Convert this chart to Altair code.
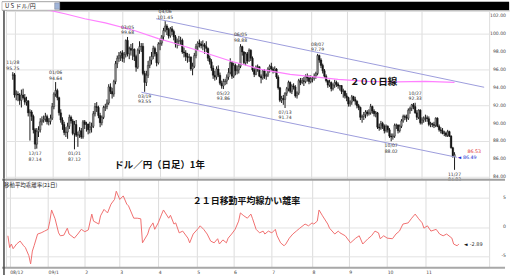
import altair as alt
import pandas as pd

# ---- trading days: FX weekdays (Christmas / New Year closed) ----
dates = [d for d in pd.bdate_range("2008-11-28", "2009-11-27")
         if d.strftime("%m-%d") not in ("12-25", "01-01")]

# ---- daily candles ----
closes = [
    95.45, 93.20, 93.30, 93.20, 92.60, 93.20, 92.90, 92.40, 92.55, 91.20,
    91.30, 90.80, 89.30, 87.70, 89.10, 89.30, 90.20, 90.40, 90.50, 90.80,
    90.20, 90.25, 90.60, 91.90, 93.30, 93.70, 92.90, 91.20, 90.40, 89.90,
    89.00, 89.05, 89.70, 90.70, 90.30, 88.90, 89.90, 88.70, 88.75, 89.20,
    88.50, 90.20, 89.90, 89.95, 89.30, 89.60, 89.70, 91.10, 91.90, 91.80,
    90.90, 90.10, 90.70, 91.80, 91.90, 92.30, 94.10, 93.60, 93.30, 94.70,
    96.70, 97.30, 97.60, 97.90, 97.30, 97.70, 99.30, 97.80, 98.40, 98.20,
    98.30, 97.50, 96.30, 98.20, 98.60, 98.65, 95.60, 94.60, 95.40, 96.50,
    97.10, 97.50, 98.40, 97.80, 96.80, 98.90, 99.00, 99.70, 100.40, 100.90,
    100.50, 99.80, 100.60, 100.30, 99.70, 98.90, 99.20, 99.25, 99.30, 98.00,
    97.90, 97.50, 97.40, 97.45, 96.10, 96.40, 97.60, 98.60, 99.00, 98.90,
    98.70, 98.80, 98.60, 98.40, 97.30, 96.90, 96.20, 95.40, 95.20, 96.10,
    95.40, 94.50, 94.20, 94.70, 94.75, 95.20, 95.70, 96.80, 95.30, 96.50,
    95.90, 96.00, 96.40, 98.60, 98.00, 96.80, 97.80, 97.00, 98.20, 97.30,
    96.00, 95.50, 96.30, 96.35, 95.30, 95.10, 95.90, 95.30, 95.40, 96.10,
    96.40, 96.10, 95.90, 96.10, 95.20, 94.00, 92.60, 92.80, 92.70, 93.40,
    93.90, 94.60, 93.60, 94.20, 94.10, 93.10, 93.40, 94.80, 94.60, 94.80,
    94.70, 95.30, 95.10, 94.70, 95.00, 95.10, 95.30, 95.60, 97.60, 97.10,
    96.50, 95.90, 95.30, 94.80, 94.30, 94.60, 93.90, 94.30, 94.60, 94.40,
    94.20, 94.25, 93.60, 93.65, 93.10, 92.90, 92.20, 92.40, 93.00, 92.70,
    92.50, 92.00, 91.80, 90.70, 90.80, 91.00, 91.30, 91.10, 91.20, 91.90,
    91.40, 91.10, 91.20, 89.60, 89.50, 90.00, 89.70, 89.20, 89.70, 89.30,
    88.60, 88.50, 88.60, 89.80, 89.85, 89.20, 89.70, 90.30, 90.80, 90.70,
    90.60, 91.50, 91.70, 92.10, 91.90, 91.20, 90.70, 91.50, 90.10, 90.40,
    90.60, 90.65, 90.55, 89.90, 90.00, 89.90, 89.80, 90.60, 89.70, 89.30,
    89.20, 88.90, 88.95, 88.70, 89.10, 88.60, 87.30, 86.30, 86.53,
]
highs = [
    95.75, 95.65, 93.70, 93.60, 93.40, 93.80, 93.90, 93.30, 93.00, 92.60,
    91.60, 91.50, 91.00, 89.50, 89.50, 89.70, 90.60, 90.80, 90.90, 91.20,
    91.00, 90.60, 91.00, 92.30, 93.50, 94.64, 93.90, 93.00, 91.60, 90.70,
    90.20, 89.60, 90.10, 91.00, 90.90, 90.50, 90.30, 90.40, 89.10, 89.60,
    89.50, 90.40, 90.40, 90.20, 90.00, 90.20, 90.10, 91.40, 92.30, 92.40,
    92.00, 91.20, 90.90, 92.00, 92.20, 92.70, 94.40, 94.50, 94.00, 94.90,
    97.00, 97.60, 98.00, 98.10, 98.20, 98.00, 99.40, 99.68, 98.60, 98.90,
    99.00, 98.40, 97.70, 98.40, 99.20, 99.00, 99.00, 95.90, 95.90, 97.00,
    97.50, 98.00, 98.70, 98.60, 98.00, 99.10, 99.50, 99.90, 100.70, 101.45,
    101.10, 100.70, 100.80, 100.90, 100.50, 99.90, 99.50, 99.80, 99.70, 99.50,
    98.50, 98.20, 97.90, 97.80, 97.50, 96.80, 97.90, 98.90, 99.20, 99.40,
    99.20, 99.30, 99.00, 99.20, 98.50, 97.60, 97.20, 96.50, 95.90, 96.40,
    96.50, 95.70, 94.80, 95.00, 95.00, 95.50, 96.20, 97.30, 97.00, 96.80,
    96.70, 96.50, 96.70, 98.88, 98.70, 98.10, 98.00, 98.00, 98.40, 98.30,
    97.50, 96.20, 96.50, 96.60, 96.40, 95.50, 96.10, 96.10, 95.60, 96.30,
    96.60, 96.80, 96.30, 96.40, 96.20, 95.40, 94.10, 93.10, 93.20, 93.50,
    94.10, 94.80, 94.70, 94.40, 94.50, 94.30, 93.60, 95.00, 95.10, 95.10,
    95.20, 95.50, 95.60, 95.40, 95.40, 95.30, 95.60, 95.80, 97.79, 97.70,
    97.30, 96.70, 96.10, 95.50, 94.90, 94.90, 94.70, 94.50, 94.90, 94.80,
    94.60, 94.30, 94.30, 93.90, 93.70, 93.40, 93.00, 92.60, 93.20, 93.10,
    93.00, 92.60, 92.20, 91.90, 91.00, 91.30, 91.50, 91.50, 91.60, 92.20,
    92.00, 91.60, 91.40, 91.30, 90.00, 90.30, 90.20, 89.90, 89.90, 89.80,
    89.50, 88.90, 88.90, 90.00, 90.00, 89.90, 89.90, 90.50, 91.00, 91.00,
    91.00, 91.70, 91.90, 92.20, 92.30, 92.33, 91.50, 91.60, 91.60, 90.70,
    90.80, 91.00, 90.90, 90.80, 90.20, 90.10, 90.20, 90.70, 90.70, 89.90,
    89.60, 89.50, 89.20, 89.10, 89.30, 89.20, 88.70, 87.40, 86.80,
]
lows = [
    94.90, 92.90, 92.60, 92.50, 92.10, 91.80, 92.70, 92.10, 92.00, 90.80,
    88.10, 90.30, 88.90, 87.14, 87.20, 88.50, 89.00, 89.80, 90.10, 90.20,
    89.90, 89.80, 89.90, 90.40, 91.60, 93.00, 92.60, 90.90, 90.10, 89.30,
    88.70, 88.50, 88.30, 89.40, 90.00, 88.70, 87.12, 88.50, 87.40, 88.40,
    88.30, 88.30, 89.40, 89.10, 88.80, 88.90, 89.00, 89.50, 90.80, 91.30,
    90.60, 89.60, 89.80, 90.50, 91.40, 91.60, 92.10, 93.30, 92.80, 93.00,
    94.40, 96.20, 96.90, 97.00, 96.90, 96.80, 97.40, 97.50, 97.20, 97.60,
    97.10, 97.00, 95.80, 96.10, 97.80, 98.00, 95.40, 93.55, 94.20, 95.10,
    96.20, 96.60, 97.20, 97.50, 96.40, 96.60, 98.20, 98.70, 99.30, 100.20,
    99.90, 99.50, 99.60, 99.90, 99.30, 98.50, 98.40, 98.70, 98.80, 97.80,
    97.40, 97.00, 96.80, 96.90, 95.90, 95.40, 96.20, 97.30, 98.20, 98.50,
    98.40, 98.20, 97.80, 98.00, 97.00, 96.60, 95.90, 95.00, 94.80, 94.90,
    95.20, 94.30, 93.90, 93.86, 94.30, 94.40, 94.90, 95.50, 95.00, 95.10,
    95.40, 95.50, 95.60, 96.20, 97.60, 96.60, 96.50, 96.70, 96.90, 97.00,
    95.80, 95.20, 95.40, 95.80, 95.20, 94.50, 94.90, 95.00, 94.90, 95.20,
    95.70, 95.90, 95.60, 95.70, 95.00, 93.80, 92.40, 92.30, 92.10, 91.74,
    93.10, 93.60, 93.40, 93.30, 93.80, 92.90, 92.80, 93.20, 94.30, 94.40,
    94.20, 94.50, 94.70, 94.40, 94.50, 94.60, 94.80, 95.00, 95.40, 96.80,
    96.20, 95.60, 95.10, 94.60, 94.00, 94.10, 93.60, 93.70, 94.00, 94.10,
    93.90, 93.70, 93.30, 92.90, 92.80, 92.50, 91.90, 91.90, 92.10, 92.50,
    92.10, 91.70, 91.50, 90.40, 90.10, 90.40, 90.60, 90.80, 90.90, 91.00,
    91.10, 90.80, 90.70, 89.40, 89.20, 89.30, 89.40, 88.90, 89.00, 89.00,
    88.40, 88.02, 88.20, 88.40, 89.40, 88.90, 89.00, 89.50, 90.10, 90.40,
    90.20, 90.40, 91.10, 91.40, 91.60, 91.10, 90.40, 90.50, 89.90, 89.90,
    90.10, 90.20, 90.20, 89.70, 89.60, 89.60, 89.50, 89.60, 89.60, 89.10,
    88.90, 88.80, 88.60, 88.50, 88.50, 88.50, 87.20, 86.20, 84.83,
]
# each FX session opens at the previous session's close
opens = [95.40] + closes[:-1]

# ---- 200-day moving average ----
ma_t = [0, 12, 23, 31, 42, 54, 71, 85, 93, 110, 128, 145, 162, 179, 190, 207, 224, 241, 258]
ma_v = [103.70, 103.15, 102.60, 102.25, 101.72, 101.25, 100.40, 99.50, 99.06, 98.06,
        96.94, 96.06, 95.50, 95.17, 94.94, 94.72, 94.67, 94.72, 94.61]

# ---- trend channel (two parallel lines) ----
trend_id = ["upper", "upper", "lower", "lower"]
trend_t = [83.7, 275.3, 75.1, 259.4]
trend_v = [101.72, 94.06, 93.50, 86.23]

# ---- high / low annotations ----
ann_t = [0, 13, 25, 36, 67, 77, 89, 123, 133, 159, 178, 221, 235, 258]
ann_v = [95.75, 87.14, 94.64, 87.12, 99.68, 93.55, 101.45, 93.86, 98.88, 91.74,
         97.79, 88.02, 92.33, 84.83]
ann_d = ["11/28", "12/17", "01/06", "01/21", "03/05", "03/19", "04/06", "05/22",
         "06/05", "07/13", "08/07", "10/07", "10/27", "11/27"]
ann_k = ["high", "low", "high", "low", "high", "low", "high", "low", "high", "low",
         "high", "low", "high", "low"]

# ---- current quotes ----
quote_red = 86.53
quote_blue = 86.49

# ---- 21-day MA deviation (%) ----
dev_t = [0, 1, 2, 3, 5, 7, 9, 10, 12, 13, 14, 15, 17, 19, 21, 23, 24, 25, 27, 29,
         30, 32, 34, 35, 38, 40, 42, 44, 46, 48, 49, 52, 53, 55, 57, 59, 61, 62, 64, 66,
         68, 69, 72, 74, 76, 77, 80, 81, 83, 84, 86, 88, 89, 92, 93, 95, 96, 98, 100, 103,
         104, 106, 109, 110, 112, 114, 116, 118, 120, 121, 123, 125, 126, 128, 130, 132, 133, 135, 137, 139,
         140, 142, 144, 146, 147, 149, 151, 153, 154, 156, 158, 159, 161, 163, 165, 167, 170, 172, 174, 175,
         177, 178, 180, 183, 184, 187, 189, 190, 193, 196, 199, 201, 203, 206, 208, 210, 212, 213, 215, 217,
         220, 222, 224, 226, 229, 231, 233, 235, 237, 238, 240, 242, 245, 247, 249, 251, 254, 255, 257, 258]
dev_v = [-1.5, -3.5, -2.9, -3.7, -2.9, -2.4, -3.2, -3.5, -4.9, -6.3, -4.1, -3.2, -1.2, -1.0, -0.7, -0.4, 1.0, 2.9, 1.4, -1.0,
         -1.5, -1.4, -0.2, -1.2, -1.9, -1.2, -0.4, -0.8, -0.5, 2.2, 1.0, 0.5, 1.9, 3.0, 2.4, 3.9, 4.7, 6.1, 4.7, 5.3,
         3.9, 3.6, 1.5, 1.5, 1.4, -2.7, -1.2, -0.2, 0.7, -0.4, 0.7, 2.2, 2.9, 1.5, 2.0, 0.5, 0.7, -1.0, -0.7, -1.9,
         -2.7, -1.2, -0.2, 0.2, -0.4, -1.2, -2.4, -2.7, -2.0, -2.9, -2.2, -2.7, -1.9, -1.2, -0.4, 1.0, 2.4, 1.9, 1.5, 2.2,
         1.4, -0.4, -1.0, -0.7, -1.2, -0.7, -1.0, -0.4, -1.5, -2.7, -3.2, -2.9, -1.9, -1.2, -0.7, -0.2, 0.5, 0.2, 0.7, 0.5,
         1.0, 2.9, 1.9, 0.5, -0.2, -1.2, -0.7, -1.0, -1.5, -2.7, -1.9, -1.5, -2.9, -2.0, -1.5, -0.7, -1.0, -2.0, -1.5, -1.9,
         -2.0, -1.2, -0.7, 0.5, 0.7, 1.5, 2.2, 1.4, 0.7, -0.2, 0.2, -0.7, -0.4, -1.2, -1.5, -1.2, -1.9, -2.9, -3.2, -2.89]

# ---- axis ticks / labels ----
price_ticks = [84, 86, 88, 90, 92, 94, 96, 98, 100, 102]
dev_ticks = [5, 0, -5]
month_labels = ["08/12", "09/1", "2", "3", "4", "5", "6", "7", "8", "9", "10", "11"]

# ---------------------------------------------------------------------------
n = len(closes)
candles = pd.DataFrame({"t": list(range(n)), "open": opens, "high": highs,
                        "low": lows, "close": closes})
ma_df = pd.DataFrame({"t": ma_t, "v": ma_v})
trend_df = pd.DataFrame({"line": trend_id, "t": trend_t, "v": trend_v})
ann_df = pd.DataFrame({"t": ann_t, "v": ann_v, "d": ann_d, "k": ann_k})
ann_df["vs"] = [f"{v:.2f}" for v in ann_v]
dev_df = pd.DataFrame({"t": dev_t, "v": dev_v})
end_df = pd.DataFrame({"t": [dev_t[-1]], "v": [dev_v[-1]], "s": [f"{dev_v[-1]:.2f}"]})
q_df = pd.DataFrame({"t": [n - 1, n - 1], "v": [quote_red, quote_blue],
                     "s": [f"{quote_red:.2f}", f"{quote_blue:.2f}"]})
pt_df = pd.DataFrame({"v": price_ticks, "s": [f"{v:.2f}" for v in price_ticks]})
dt_df = pd.DataFrame({"v": dev_ticks, "s": [str(v) for v in dev_ticks]})
one = pd.DataFrame({"a": [0]})

month_idx = [i for i in range(1, n) if dates[i].month != dates[i - 1].month]
label_expr = " : ".join(f"datum.value == {i} ? '{lab}'" for i, lab in zip(month_idx, month_labels)) + " : ''"

W = 486
NUMF = "DejaVu Sans"
JPF = "Noto Sans CJK JP"

xs = alt.Scale(domain=[-1.1, 275.3], nice=False, zero=False)
ys = alt.Scale(domain=[83.833, 102.611], nice=False, zero=False)
ds = alt.Scale(domain=[-6.86, 8.22], nice=False, zero=False)

grid_x = alt.Axis(values=month_idx, grid=True, gridColor="#dcdcdc", labels=False,
                  ticks=False, domain=False, title=None)
price_grid = alt.Axis(orient="right", values=price_ticks, grid=True, gridColor="#e2e2e2",
                      labels=False, ticks=False, domain=False, title=None)

# ---------------- top bar ----------------
top = alt.layer(
    alt.Chart(one).mark_rect(color="black").encode(
        x=alt.value(-4), x2=alt.value(506), y=alt.value(0), y2=alt.value(8.5)),
    alt.Chart(one).mark_rect(color="white", stroke="#888", strokeWidth=0.5).encode(
        x=alt.value(-4), x2=alt.value(54), y=alt.value(0), y2=alt.value(8.5)),
    alt.Chart(one).mark_rect(color="#9fb4d8", stroke="#667", strokeWidth=0.4).encode(
        x=alt.value(49), x2=alt.value(54), y=alt.value(1), y2=alt.value(7.5)),
    alt.Chart(one).mark_text(text="U S ドル/円", align="left", baseline="middle",
                             fontSize=6, font=JPF, color="#222").encode(
        x=alt.value(-1), y=alt.value(4.5)),
).properties(width=506, height=9)

# ---------------- main price panel ----------------
cbase = alt.Chart(candles).encode(x=alt.X("t:Q", scale=xs, axis=grid_x))
wicks = cbase.mark_rule(color="#1a1a1a", strokeWidth=1).encode(
    y=alt.Y("low:Q", scale=ys, axis=price_grid), y2="high:Q")
bodies = cbase.mark_bar(size=1.7, stroke="#111", strokeWidth=0.35).encode(
    y="open:Q", y2="close:Q",
    color=alt.condition("datum.close >= datum.open", alt.value("#8c8c8c"), alt.value("#151515")))
ma_line = alt.Chart(ma_df).mark_line(color="#ff80ff", strokeWidth=1.2, clip=True).encode(
    x="t:Q", y="v:Q")
trend = alt.Chart(trend_df).mark_line(color="#9c9cdc", strokeWidth=1, clip=True).encode(
    x="t:Q", y="v:Q", detail="line:N")

# price scale labels at the right edge
price_labels = alt.Chart(pt_df).mark_text(align="right", baseline="middle", fontSize=4.6,
                                          font=NUMF, color="#444").encode(
    x=alt.value(503), y="v:Q", text="s:N")

hi = alt.Chart(ann_df).transform_filter("datum.k == 'high'")
lo = alt.Chart(ann_df).transform_filter("datum.k == 'low'")
tstyle = dict(fontSize=4.6, font=NUMF, color="#333")
hi_d = hi.mark_text(baseline="bottom", dy=-7, **tstyle).encode(x="t:Q", y="v:Q", text="d:N")
hi_v = hi.mark_text(baseline="bottom", dy=-1.5, **tstyle).encode(x="t:Q", y="v:Q", text="vs:N")
lo_d = lo.mark_text(baseline="top", dy=2, **tstyle).encode(x="t:Q", y="v:Q", text="d:N")
lo_v = lo.mark_text(baseline="top", dy=7.5, **tstyle).encode(x="t:Q", y="v:Q", text="vs:N")

q_red = alt.Chart(q_df.iloc[[0]]).mark_text(align="left", dx=13, dy=-3, fontSize=4.8,
                                            font=NUMF, color="#e02020").encode(
    x="t:Q", y="v:Q", text="s:N")
q_arrow = alt.Chart(q_df.iloc[[1]]).mark_text(text="◄", align="left", dx=3, dy=3.5, fontSize=4.8,
                                              font=NUMF, color="#2030d0").encode(x="t:Q", y="v:Q")
q_blue = alt.Chart(q_df.iloc[[1]]).mark_text(align="left", dx=8.5, dy=3.5, fontSize=4.8,
                                             font=NUMF, color="#2030d0").encode(
    x="t:Q", y="v:Q", text="s:N")

t200 = alt.Chart(one).mark_text(text="２００日線", align="left", baseline="middle",
                                fontSize=9.5, fontWeight="bold", font=JPF, color="#111").encode(
    x=alt.value(346), y=alt.value(72))
ttitle = alt.Chart(one).mark_text(text="ドル／円（日足）1年", align="left", baseline="middle",
                                  fontSize=9.5, fontWeight="bold", font=JPF, color="#111").encode(
    x=alt.value(109), y=alt.value(155))
lborder = alt.Chart(one).mark_rule(color="#444", strokeWidth=1.5).encode(
    x=alt.value(-2), y=alt.value(0), y2=alt.value(169))

main = alt.layer(wicks, bodies, ma_line, trend, price_labels, hi_d, hi_v, lo_d, lo_v,
                 q_red, q_arrow, q_blue, t200, ttitle, lborder).properties(width=W, height=169)

# ---------------- lower deviation panel ----------------
dev_x_axis = alt.Axis(values=month_idx, grid=True, gridColor="#dcdcdc", labelExpr=label_expr,
                      labelFont=NUMF, labelFontSize=4.6, labelColor="#444", labelAlign="left",
                      labelPadding=2.5, labelFlush=False, labelOverlap=False,
                      ticks=False, domain=False, title=None)
dev_grid = alt.Axis(orient="right", values=dev_ticks, grid=True, gridColor="#e2e2e2",
                    labels=False, ticks=False, domain=False, title=None)

dev_line = alt.Chart(dev_df).mark_line(color="#f07070", strokeWidth=1).encode(
    x=alt.X("t:Q", scale=xs, axis=dev_x_axis),
    y=alt.Y("v:Q", scale=ds, axis=dev_grid))
dev_labels = alt.Chart(dt_df).mark_text(align="right", baseline="middle", fontSize=4.6,
                                        font=NUMF, color="#444").encode(
    x=alt.value(503), y="v:Q", text="s:N")
sep = alt.Chart(one).mark_rule(color="#a0a0a0", strokeWidth=2).encode(
    x=alt.value(-4), x2=alt.value(502), y=alt.value(1))
bottom_line = alt.Chart(one).mark_rule(color="#a8a8a8", strokeWidth=2).encode(
    x=alt.value(-4), x2=alt.value(502), y=alt.value(89.5))
lborder2 = alt.Chart(one).mark_rule(color="#444", strokeWidth=1.5).encode(
    x=alt.value(-2), y=alt.value(0), y2=alt.value(97))
dev_lab = alt.Chart(one).mark_text(text="移動平均乖離率(21日)", align="left", baseline="middle",
                                   fontSize=5.5, font=JPF, color="#222").encode(
    x=alt.value(-2), y=alt.value(6))
dev_title = alt.Chart(one).mark_text(text="２１日移動平均線かい離率", align="left", baseline="middle",
                                     fontSize=9, fontWeight="bold", font=JPF, color="#111").encode(
    x=alt.value(188), y=alt.value(22))
end_arrow = alt.Chart(end_df).mark_text(text="◄", align="left", dx=5, fontSize=5, font=NUMF,
                                        color="#111").encode(x="t:Q", y="v:Q")
end_val = alt.Chart(end_df).mark_text(align="left", dx=11, fontSize=5, font=NUMF,
                                      color="#333").encode(x="t:Q", y="v:Q", text="s:N")

lower = alt.layer(dev_line, dev_labels, sep, bottom_line, lborder2, dev_lab, dev_title,
                  end_arrow, end_val).properties(width=W, height=89)

chart = alt.vconcat(top, main, lower, spacing=0, bounds="flush").properties(
    padding={"left": 0, "right": 0, "top": 0, "bottom": 0}
).configure_view(strokeWidth=0).configure(background="white")

chart.save("out.html", embed_options={"renderer": "svg", "actions": False})
